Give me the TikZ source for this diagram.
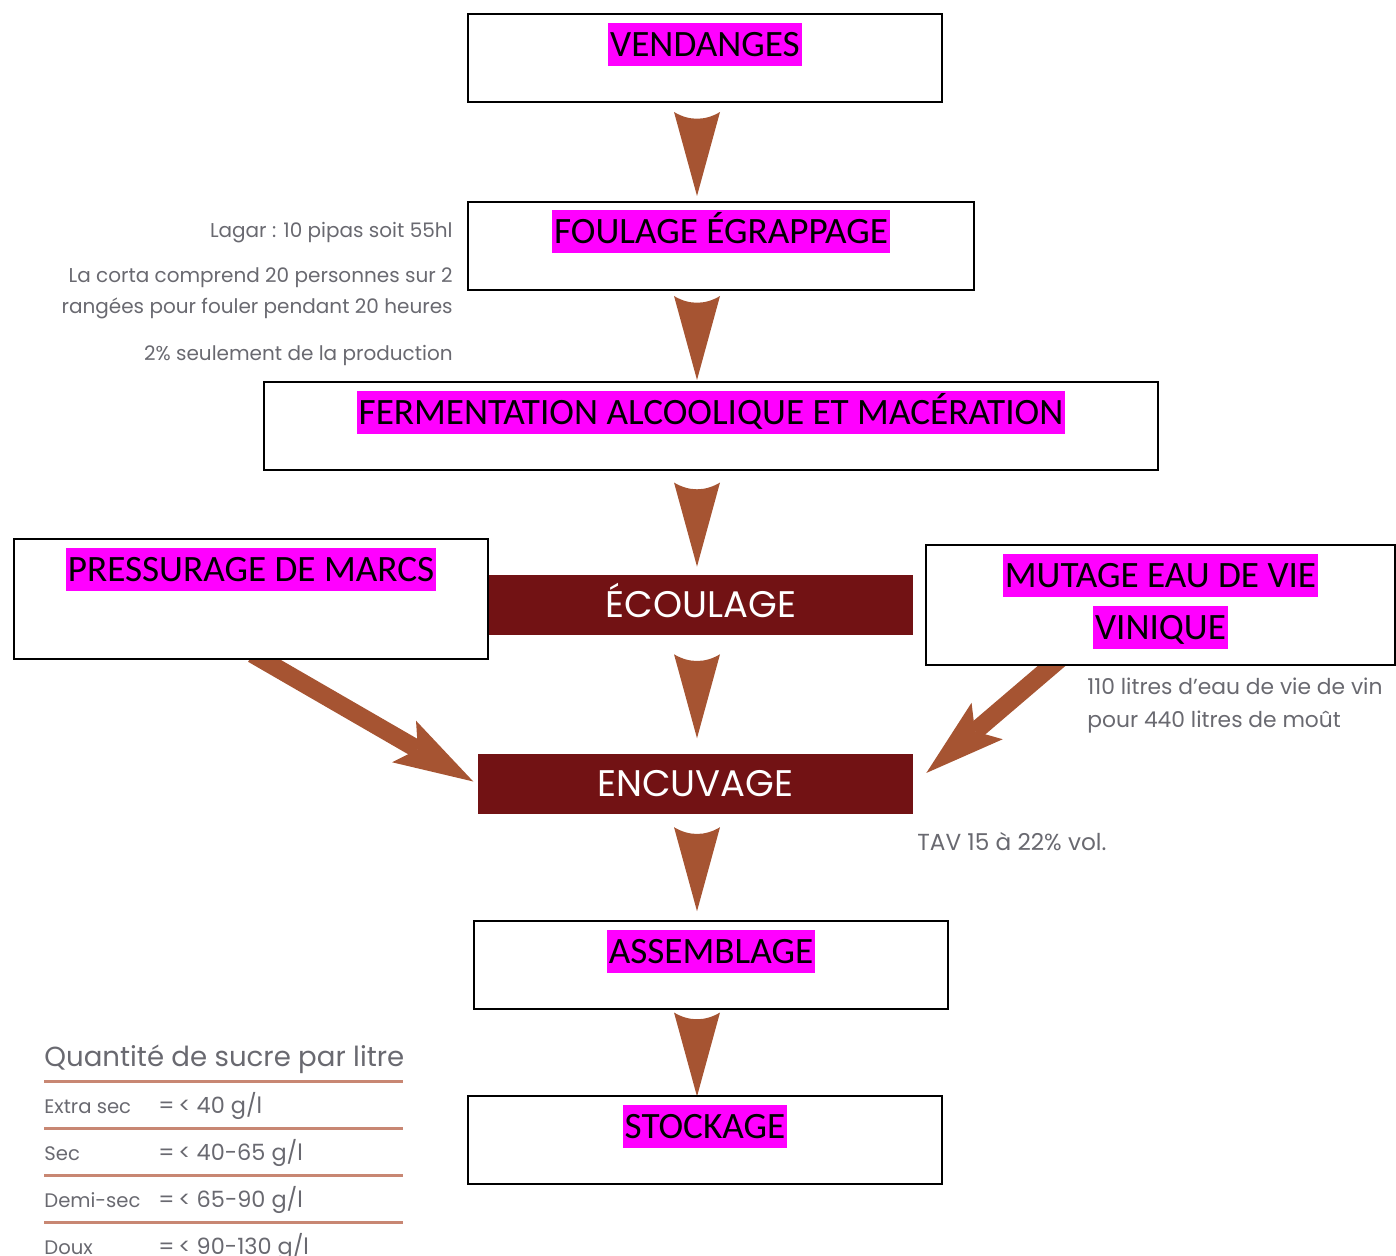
\documentclass[tikz,border=0pt]{standalone}
\usepackage{fontspec}
\setmainfont{Carlito}
\newfontfamily\futura{Poppins}
\usetikzlibrary{positioning,calc,arrows.meta,backgrounds}
\definecolor{brun}{RGB}{166,84,50}
\definecolor{bordeaux}{RGB}{114,18,20}
\definecolor{grisnote}{RGB}{105,105,112}
\definecolor{filet}{RGB}{200,135,115}
\definecolor{rose}{RGB}{255,0,255}
\tikzset{
  boite/.style={draw, line width=1pt, fill=white, minimum height=44pt},
  surligne/.style={fill=rose, font=\fontsize{18.6}{18.6}\selectfont, inner xsep=1pt, inner ysep=0pt,
    minimum height=21.5pt, text height=12pt, text depth=0pt},
  bandeau/.style={fill=bordeaux, text=white, font=\futura\fontsize{18.5}{18.5}\selectfont,
    minimum height=30pt, text height=12.9pt, text depth=0pt},
  note/.style={text=grisnote, font=\futura\fontsize{10}{15.5}\selectfont, inner sep=0pt},
  ligne/.style={font=\futura\fontsize{9.8}{9.8}\selectfont},
  valeur/.style={font=\futura\fontsize{11.2}{11.2}\selectfont},
  fleche/.style={fill=brun},
  fleche diag/.style={draw=brun, line width=9pt,
    -{Stealth[length=40pt,width=24pt,inset=8pt,line width=0pt]}},
}
% fleche verticale entre deux etapes
\newcommand\descente[2]{%
  \path ($(#1.south -| axe)!0.5!(#2.north -| axe)$) coordinate (m);
  \fill[fleche] ($(m)+(-23,-40)$) .. controls ($(m)+(-8,-31)$) and ($(m)+(8,-31)$) .. ($(m)+(23,-40)$)
    -- ($(m)+(0,44)$) -- cycle;}
\begin{document}
\begin{tikzpicture}[x=0.5pt,y=-0.5pt]
\useasboundingbox (0,0) rectangle (1396,1256);
\coordinate (axe) at (697,0);
% etapes
\node [boite, minimum width=237pt, name=vendanges] at (705,58) {};
\node [surligne, below=5pt of vendanges.north, name=vendanges-t] {VENDANGES};
\node [boite, minimum width=253pt, name=foulage] at (721,246) {};
\node [surligne, below=4.5pt of foulage.north, name=foulage-t] {FOULAGE ÉGRAPPAGE};
\node [boite, minimum width=447pt, name=fermentation] at (711,426) {};
\node [surligne, below=5pt of fermentation.north, name=fermentation-t] {FERMENTATION ALCOOLIQUE ET MACÉRATION};
\node [boite, minimum width=237pt, minimum height=60pt, name=pressurage] at (251,599) {};
\node [surligne, below=5pt of pressurage.north, name=pressurage-t] {PRESSURAGE DE MARCS};
\node [bandeau, minimum width=212pt, name=ecoulage] at (701,604.5) {ÉCOULAGE};
\node [boite, minimum width=234.5pt, minimum height=60pt, name=mutage] at (1160.5,605) {};
\node [surligne, below=5pt of mutage.north, name=mutage-t1] {MUTAGE EAU DE VIE};
\node [surligne, below=4pt of mutage-t1, name=mutage-t2] {VINIQUE};
\node [bandeau, minimum width=217.5pt, name=encuvage] at (695.5,784) {ENCUVAGE};
\node [boite, minimum width=237pt, name=assemblage] at (711,965) {};
\node [surligne, below=5pt of assemblage.north, name=assemblage-t] {ASSEMBLAGE};
\node [boite, minimum width=237pt, name=stockage] at (705,1140) {};
\node [surligne, below=5pt of stockage.north, name=stockage-t] {STOCKAGE};
% fleches
\begin{scope}[on background layer]
\descente{vendanges}{foulage}
\descente{foulage}{fermentation}
\descente{fermentation}{ecoulage}
\descente{ecoulage}{encuvage}
\descente{encuvage}{assemblage}
\descente{assemblage}{stockage}
\draw [fleche diag, shorten <=-6pt, shorten >=2.5pt] ([xshift=6pt]pressurage.south) -- (encuvage.west);
\draw [fleche diag, shorten <=-6pt, shorten >=8.5pt] ([xshift=-54.5pt]mutage.south) -- (encuvage.east);
\end{scope}
% notes
\node [note, anchor=east, name=lagar] at (453,233) {Lagar : 10 pipas soit 55hl};
\node [note, anchor=east, align=right, name=corta] at (453,293.5) {La corta comprend 20 personnes sur 2\\rangées pour fouler pendant 20 heures};
\node [note, anchor=east, name=production] at (453,355) {2\% seulement de la production};
\node [note, anchor=west, align=left, font=\futura\fontsize{10.9}{16.5}\selectfont, name=eaudevie] at (1087,705.5) {110 litres d’eau de vie de vin\\pour 440 litres de moût};
\node [note, anchor=west, font=\futura\fontsize{11.6}{11.6}\selectfont, name=tav] at (917,842) {TAV 15 à 22\% vol.};
% sucre
\node [note, anchor=base west, font=\futura\fontsize{13.8}{13.8}\selectfont, name=sucre] at (44,1066) {Quantité de sucre par litre};
\foreach \y in {1081,1128,1175,1222}
  \draw [filet, line width=1.5pt] (44,\y) -- (403,\y);
\foreach \cat/\val [count=\i] in {Extra sec/{=\,< 40 g/l}, Sec/{=\,< 40-65 g/l}, Demi-sec/{=\,< 65-90 g/l}, Doux/{=\,< 90-130 g/l}} {
  \node [note, ligne, anchor=base west, name=cat-\i] at (44,1066+47*\i) {\cat};
  \node [note, valeur, anchor=base west, name=val-\i] at (158,1066+47*\i) {\val};
}
\end{tikzpicture}
\end{document}
